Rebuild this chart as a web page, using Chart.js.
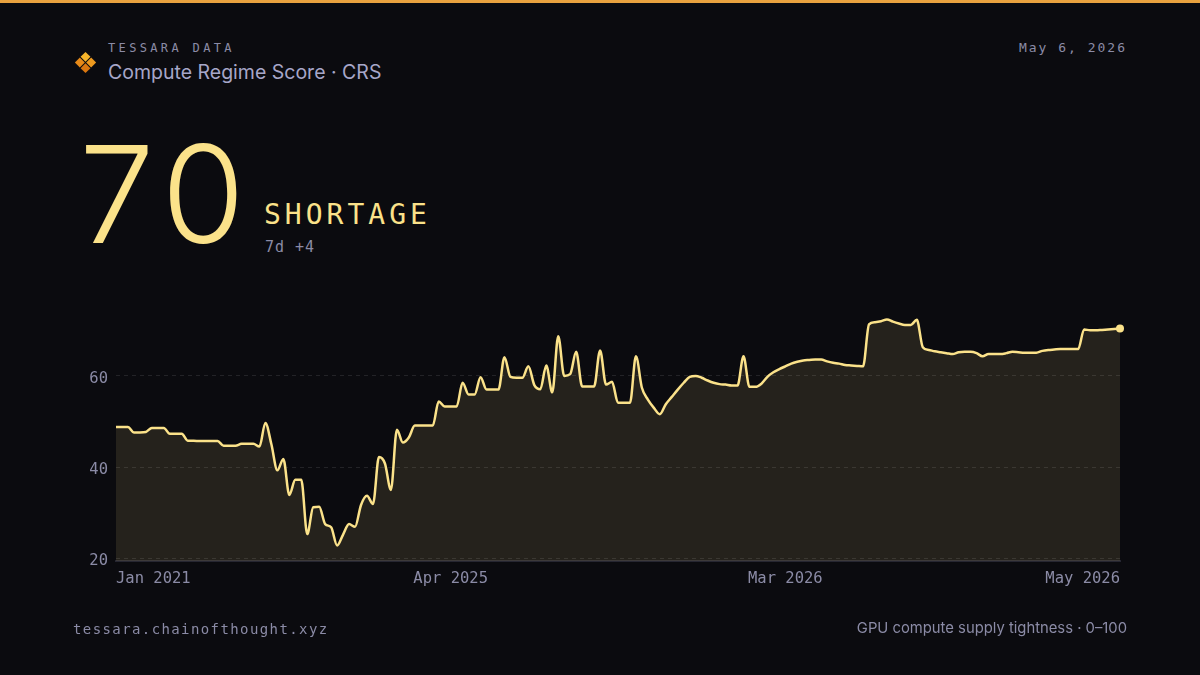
<!DOCTYPE html>
<html lang="en">
<head>
<meta charset="UTF-8">
<title>Compute Regime Score</title>
<script src="https://cdn.jsdelivr.net/npm/chart.js"></script>
<style>
  html, body { margin: 0; padding: 0; background: #0b0b0f; }
  #page { position: relative; width: 1200px; height: 675px; overflow: hidden; background: #0b0b0f; }
  #topbar { position: absolute; left: 0; top: 0; width: 1200px; height: 3px; background: #e9a23f; }
  .mono { font-family: 'DejaVu Sans Mono', monospace; }
  .t { position: absolute; white-space: nowrap; line-height: 1; }
  #brand { left: 108px; top: 42px; font-size: 12px; letter-spacing: 3.35px; color: #8b8ba6; }
  #title { left: 108px; top: 63px; font-family: Inter, 'Noto Sans', sans-serif; font-size: 19.5px; color: #a7a7c9; }
  #date { right: 73px; top: 41px; font-size: 13px; letter-spacing: 2px; color: #8b8ba6; }
  #big { left: 79px; top: 127px; font-family: Inter, sans-serif; font-weight: 300; font-size: 135px; color: #fbe28a; letter-spacing: 9px; }
  #regime { left: 264px; top: 201px; font-size: 28px; letter-spacing: 4px; color: #fbe28a; }
  #delta { left: 265px; top: 240px; font-size: 15px; letter-spacing: 1px; color: #8b8ba6; }
  #site { left: 73px; top: 622px; font-size: 14px; letter-spacing: 1.4px; color: #8b8ba6; }
  #note { right: 73px; top: 621px; font-family: Inter, 'Noto Sans', sans-serif; font-size: 14.8px; color: #8b8ba6; }
  #icon { position: absolute; left: 78px; top: 55px; width: 15px; height: 15px; transform: rotate(45deg); }
  #icon span { position: absolute; width: 7px; height: 7px; }
  #chartBox { position: absolute; left: 0; top: 0; width: 1200px; height: 675px; }
</style>
</head>
<body>
<div id="page">
  <div id="topbar"></div>
  <div id="icon">
    <span style="left:0px;top:0px;background:#f7b52b"></span>
    <span style="left:8px;top:0px;background:#ee9a1f"></span>
    <span style="left:0px;top:8px;background:#e78a18"></span>
    <span style="left:8px;top:8px;background:#d9760f"></span>
  </div>
  <div class="t mono" id="brand">TESSARA DATA</div>
  <div class="t" id="title">Compute Regime Score · CRS</div>
  <div class="t mono" id="date">May 6, 2026</div>
  <div class="t" id="big">70</div>
  <div class="t mono" id="regime">SHORTAGE</div>
  <div class="t mono" id="delta">7d +4</div>
  <div id="chartBox"><canvas id="crsChart" width="1200" height="675"></canvas></div>
  <div class="t mono" id="site">tessara.chainofthought.xyz</div>
  <div class="t" id="note">GPU compute supply tightness · 0–100</div>
</div>

<script>
// CRS readings, oldest to newest
var crsValues = [
  48.8, 48.8, 48.8, 47.6, 47.6, 47.7, 48.6, 48.6, 48.6, 47.3, 47.3,
  47.3, 45.8, 45.8, 45.7, 45.7, 45.7, 45.7, 44.7, 44.7, 44.7,
  45.1, 45.1, 45.1, 44.5, 49.7, 45.0, 39.3, 41.8, 33.9, 37.2,
  37.2, 25.3, 31.2, 31.3, 27.5, 26.8, 22.8, 25.2, 27.5, 26.9,
  31.7, 33.7, 31.9, 42.2, 40.8, 35.0, 48.2, 45.4, 46.5, 49.1,
  49.1, 49.1, 49.1, 54.4, 53.3, 53.3, 53.3, 58.5, 55.9, 55.9,
  59.7, 57.0, 57.0, 57.0, 64.1, 59.8, 59.6, 59.6, 62.1, 58.0,
  57.1, 62.3, 56.4, 68.7, 60.0, 60.4, 65.3, 57.7, 57.7, 57.7,
  65.6, 58.1, 58.7, 54.1, 54.1, 54.1, 64.3, 57.4, 54.8, 53.0,
  51.6, 53.8, 55.4, 57.0, 58.5, 59.8, 60.0, 59.6, 59.0, 58.5,
  58.2, 58.1, 57.9, 57.9, 64.3, 57.6, 57.6, 58.3, 59.8, 60.8,
  61.5, 62.1, 62.7, 63.1, 63.4, 63.5, 63.6, 63.6, 63.2, 62.9,
  62.7, 62.4, 62.3, 62.2, 62.1, 71.3, 71.8, 72.0, 72.4, 71.9,
  71.5, 71.2, 71.2, 72.3, 66.3, 65.7, 65.4, 65.2, 65.0, 64.8,
  65.2, 65.3, 65.3, 65.0, 64.3, 64.8, 64.8, 64.8, 65.0, 65.3,
  65.2, 65.1, 65.1, 65.1, 65.5, 65.7, 65.8, 65.9, 65.9, 65.9,
  65.9, 70.2, 70.0, 70.0, 70.1, 70.2, 70.3, 70.4
];

// x axis labels and the reading they sit under
var xTickLabels = ['Jan 2021', 'Apr 2025', 'Mar 2026', 'May 2026'];
var xTickIndex = [0, 56, 112, 168];
var yTicks = [20, 40, 60];

var labels = crsValues.map(function (v, i) { return i; });
var lastIdx = crsValues.length - 1;

var monoFont = { family: "'DejaVu Sans Mono', monospace", size: 15.5 };

var ctx = document.getElementById('crsChart').getContext('2d');
var crsChart = new Chart(ctx, {
  type: 'line',
  data: {
    labels: labels,
    datasets: [{
      data: crsValues,
      borderColor: '#fbe28a',
      borderWidth: 2.5,
      backgroundColor: 'rgba(251, 226, 138, 0.11)',
      fill: 'start',
      cubicInterpolationMode: 'monotone',
      pointRadius: function (c) { return c.dataIndex === lastIdx ? 4 : 0; },
      pointBackgroundColor: '#fbe28a',
      pointBorderWidth: 0,
      pointHoverRadius: 0
    }]
  },
  options: {
    responsive: false,
    animation: false,
    devicePixelRatio: 1,
    layout: { padding: { left: 76, right: 80, top: 303, bottom: 0 } },
    plugins: { legend: { display: false }, tooltip: { enabled: false } },
    scales: {
      x: {
        type: 'category',
        grid: { display: false, drawTicks: false },
        border: { display: true, color: '#262631', width: 2 },
        afterBuildTicks: function (axis) {
          axis.ticks = xTickIndex.map(function (i) { return { value: i }; });
        },
        afterFit: function (axis) { axis.height = 114; },
        ticks: {
          autoSkip: false,
          maxRotation: 0,
          align: 'inner',
          padding: 9,
          color: '#8b8ba6',
          font: monoFont,
          callback: function (val) {
            var k = xTickIndex.indexOf(val);
            return k >= 0 ? xTickLabels[k] : '';
          }
        }
      },
      y: {
        min: 19.4,
        max: 76,
        afterBuildTicks: function (axis) {
          axis.ticks = yTicks.map(function (v) { return { value: v }; });
        },
        afterFit: function (axis) { axis.width = 40; },
        grid: { color: 'rgba(255,255,255,0.1)', drawTicks: false, lineWidth: 1 },
        border: { display: false, dash: [4, 4] },
        ticks: { padding: 8, labelOffset: 3, color: '#8b8ba6', font: monoFont }
      }
    }
  }
});
</script>
</body>
</html>
